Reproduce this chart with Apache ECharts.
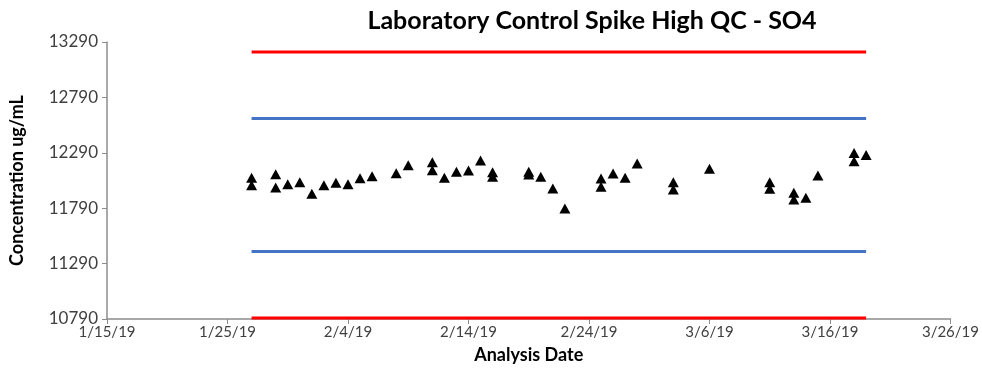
<!DOCTYPE html>
<html>
<head>
<meta charset="utf-8">
<script src="https://cdn.jsdelivr.net/npm/echarts@6/dist/echarts.min.js"></script>
<style>
  html, body { margin: 0; padding: 0; background: #fff; }
  #chart { width: 982px; height: 369px; }
</style>
</head>
<body>
<div id="chart"></div>
<script>
// QC results: analysis dates and measured concentrations (ug/mL)
const dates = [
  '2019-01-27', '2019-01-27', '2019-01-29', '2019-01-29', '2019-01-30', '2019-01-31',
  '2019-02-01', '2019-02-02', '2019-02-03', '2019-02-04', '2019-02-05', '2019-02-06',
  '2019-02-08', '2019-02-09', '2019-02-11', '2019-02-11', '2019-02-12', '2019-02-13',
  '2019-02-14', '2019-02-15', '2019-02-16', '2019-02-16', '2019-02-19', '2019-02-19',
  '2019-02-20', '2019-02-21', '2019-02-22', '2019-02-25', '2019-02-25', '2019-02-26',
  '2019-02-27', '2019-02-28', '2019-03-03', '2019-03-03', '2019-03-06', '2019-03-11',
  '2019-03-11', '2019-03-13', '2019-03-13', '2019-03-14', '2019-03-15', '2019-03-18',
  '2019-03-18', '2019-03-19'
];
const values = [
  12064, 11998, 12097, 11977, 12007, 12025,
  11920, 11998, 12019, 12007, 12061, 12079,
  12106, 12178, 12205, 12133, 12064, 12118,
  12130, 12220, 12115, 12073, 12118, 12094,
  12073, 11968, 11788, 12058, 11983, 12103,
  12064, 12193, 12025, 11959, 12145, 12025,
  11965, 11929, 11869, 11884, 12085, 12289,
  12214, 12271
];

// Control and warning limits
const upperControl = 13200;
const upperWarning = 12600;
const lowerWarning = 11400;
const lowerControl = 10800;

// Axis ranges
const xStart = '2019-01-15';
const xEnd = '2019-03-26';
const xStepDays = 10;
const yMin = 10790;
const yMax = 13290;
const yStep = 500;

const DAY = 86400000;
const toTs = s => { const p = s.split('-').map(Number); return Date.UTC(p[0], p[1] - 1, p[2]); };
const fmtDate = v => { const d = new Date(v); return (d.getUTCMonth() + 1) + '/' + d.getUTCDate() + '/' + String(d.getUTCFullYear()).slice(2); };

const pts = dates.map((d, i) => [toTs(d), values[i]]);
const firstTs = Math.min(...pts.map(p => p[0]));
const lastTs = Math.max(...pts.map(p => p[0]));
const limitLine = (v, color) => ({
  type: 'line',
  data: [[firstTs, v], [lastTs, v]],
  symbol: 'none',
  lineStyle: { color: color, width: 3 },
  silent: true,
  z: 1
});

const chart = echarts.init(document.getElementById('chart'));
chart.setOption({
  animation: false,
  textStyle: { fontFamily: 'Lato' },
  title: {
    text: 'Laboratory Control Spike High QC - SO4',
    left: 587,
    top: 3,
    textAlign: 'center',
    textStyle: { fontFamily: 'Lato', fontWeight: 'bold', fontSize: 25, color: '#000' }
  },
  grid: { left: 102, right: 26, top: 42, bottom: 49 },
  xAxis: {
    type: 'value',
    min: toTs(xStart),
    max: toTs(xEnd),
    interval: xStepDays * DAY,
    name: 'Analysis Date',
    nameLocation: 'middle',
    nameGap: 27,
    nameTextStyle: { fontFamily: 'Lato', fontWeight: 'bold', fontSize: 18, color: '#000' },
    axisLine: { lineStyle: { color: '#8c8c8c', width: 1.5 } },
    axisTick: { show: true, length: 5, lineStyle: { color: '#8c8c8c' } },
    axisLabel: { formatter: fmtDate, fontSize: 15, color: '#404040', margin: 6 },
    splitLine: { show: false }
  },
  yAxis: {
    type: 'value',
    min: yMin,
    max: yMax,
    interval: yStep,
    name: 'Concentration ug/mL',
    nameLocation: 'middle',
    nameGap: 81,
    nameTextStyle: { fontFamily: 'Lato', fontWeight: 'bold', fontSize: 18, color: '#000' },
    axisLine: { show: true, lineStyle: { color: '#8c8c8c', width: 1.5 } },
    axisTick: { show: true, length: 5, lineStyle: { color: '#8c8c8c' } },
    axisLabel: { formatter: v => String(v), fontSize: 17, color: '#404040', margin: 9 },
    splitLine: { show: false }
  },
  series: [
    limitLine(upperControl, '#ff0000'),
    limitLine(upperWarning, '#4472c4'),
    limitLine(lowerWarning, '#4472c4'),
    limitLine(lowerControl, '#ff0000'),
    {
      type: 'scatter',
      data: pts,
      symbol: 'triangle',
      symbolSize: [11, 10],
      itemStyle: { color: '#000', opacity: 1 },
      z: 3
    }
  ]
});
</script>
</body>
</html>
